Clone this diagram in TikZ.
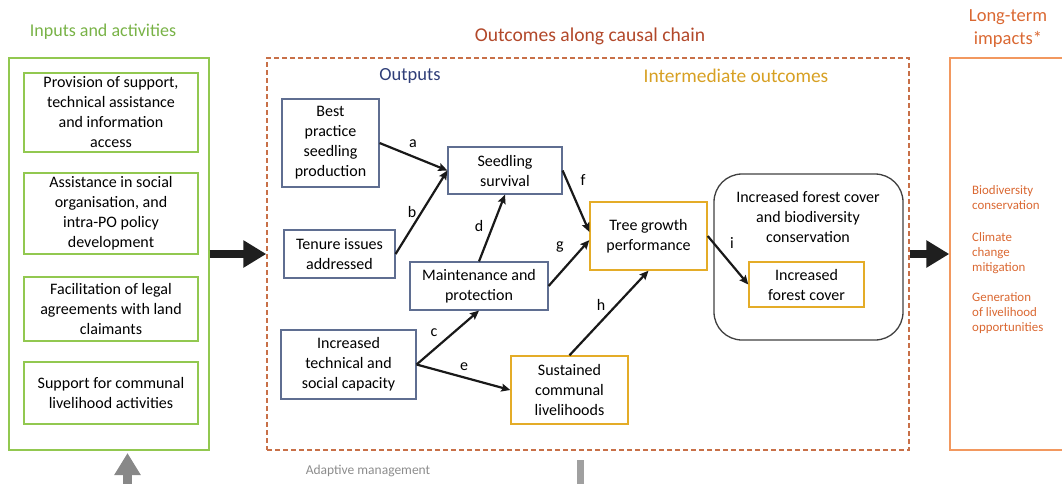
\documentclass[tikz,border=0pt]{standalone}
\usepackage{fontspec}
\setmainfont{Carlito}
\usetikzlibrary{arrows.meta,positioning}
\definecolor{inputgreen}{RGB}{146,200,80}
\definecolor{inputtitle}{RGB}{120,178,70}
\definecolor{chainred}{RGB}{178,72,42}
\definecolor{chaindash}{RGB}{200,112,72}
\definecolor{outblue}{RGB}{47,62,120}
\definecolor{outborder}{RGB}{95,110,145}
\definecolor{midgold}{RGB}{215,160,35}
\definecolor{midborder}{RGB}{228,172,40}
\definecolor{impactorange}{RGB}{218,104,50}
\definecolor{impactborder}{RGB}{242,152,95}
\definecolor{feedgray}{RGB}{160,160,160}
\tikzset{
  boxtext/.style={font=\fontsize{16}{20}\selectfont, align=center, inner sep=0pt},
  inbox/.style={boxtext, draw=inputgreen, line width=1.4pt, minimum width=174pt},
  outbox/.style={boxtext, draw=outborder, line width=1.2pt},
  midbox/.style={boxtext, draw=midborder, line width=1.4pt},
  heading/.style={font=\fontsize{18.5}{23}\selectfont, align=center},
  letter/.style={font=\fontsize{16}{20}\selectfont},
  impitem/.style={font=\fontsize{12.9}{15}\selectfont, align=left, text=impactorange, inner sep=0pt, anchor=west},
  link/.style={->, line width=2.2pt, black!90},
  bigarrow/.style={line width=8pt, -{Triangle[length=23pt,width=26pt]}, black!88},
}

\begin{document}
\begin{tikzpicture}[x=1pt, y=-1pt, >={Stealth[length=9pt,width=8pt,inset=1.5pt]}]
\useasboundingbox (0,0) rectangle (1062,483);

%%% Column frames
\node[draw=inputgreen, line width=1.4pt, minimum width=200pt, minimum height=392pt] (inputs) at (109,254) {}; % inputs frame
\node[draw=chaindash, dash pattern=on 5pt off 3pt, line width=1.4pt, minimum width=642pt, minimum height=392pt] (chain) at (588,254) {}; % causal chain frame
\node[draw=impactborder, line width=1.4pt, minimum width=120pt, minimum height=392pt] (impacts) at (1010,254) {}; % impacts frame

\node[heading, text=inputtitle, font=\fontsize{18}{23}\selectfont] (intitle) at (103,32) {Inputs and activities}; % inputs title
\node[heading, text=chainred, font=\fontsize{19.6}{23}\selectfont] (chaintitle) at (590,36) {Outcomes along causal chain}; % chain title
\node[heading, text=impactorange] (imptitle) at (1008,28.5) {Long-term\\impacts*}; % impacts title
\node[heading, text=outblue] (outtitle) at (410,76) {Outputs}; % outputs title
\node[heading, text=midgold, font=\fontsize{19.4}{23}\selectfont] (midtitle) at (736,76) {Intermediate outcomes}; % intermediate title

%%% Inputs and activities
\node[inbox, minimum height=79pt] (support) at (111,112.5) {Provision of support,\\technical assistance\\and information\\access};
\node[inbox, minimum height=81pt] (organise) at (111,213.5) {Assistance in social\\organisation, and\\intra-PO policy\\development};
\node[inbox, minimum height=64pt] (legal) at (111,309) {Facilitation of legal\\agreements with land\\claimants};
\node[inbox, minimum height=62pt] (livsupport) at (111,393) {Support for communal\\livelihood activities};

%%% Outputs
\node[outbox, minimum width=97pt, minimum height=88pt] (best) at (330.5,143) {Best\\practice\\seedling\\production};
\node[outbox, minimum width=114pt, minimum height=47pt] (survival) at (505,170.5) {Seedling\\survival};
\node[outbox, minimum width=111pt, minimum height=48pt] (tenure) at (339.5,254) {Tenure issues\\addressed};
\node[outbox, minimum width=138pt, minimum height=48pt] (maint) at (479,286) {Maintenance and\\protection};
\node[outbox, minimum width=135pt, minimum height=69pt] (capacity) at (348.5,364.5) {Increased\\technical and\\social capacity};

%%% Intermediate outcomes
\node[midbox, minimum width=117pt, minimum height=68pt] (livelihood) at (569.5,390) {Sustained\\communal\\livelihoods};
\node[midbox, minimum width=117pt, minimum height=68pt] (growth) at (648.5,236) {Tree growth\\performance};
\node[draw=black!75, line width=1.3pt, rounded corners=28pt, minimum width=189pt, minimum height=166pt] (forest) at (808.5,257) {}; % forest group
\node[boxtext] (forestlbl) at (808,217) {Increased forest cover\\and biodiversity\\conservation}; % forest group label
\node[midbox, minimum width=115pt, minimum height=45pt] (cover) at (806.5,284.5) {Increased\\forest cover};

%%% Causal links
\draw[link] (best.east) -- (survival.west); % a
\draw[link] (tenure.east) -- (survival.west); % b
\draw[link] (capacity.east) -- (maint.south); % c
\draw[link] (maint.north) -- (survival.south); % d
\draw[link] (capacity.east) -- (livelihood.west); % e
\draw[link] (survival.east) -- (growth.176); % f
\draw[link] (maint.east) -- (growth.184); % g
\draw[link] (livelihood.north) -- (growth.south); % h
\draw[link] (growth.east) -- (cover.west); % i
\node[letter] (la) at (413,144) {a}; % a label
\node[letter] (lb) at (412,212) {b}; % b label
\node[letter] (lc) at (434,333) {c}; % c label
\node[letter] (ld) at (479,226) {d}; % d label
\node[letter] (le) at (464,367) {e}; % e label
\node[letter] (lf) at (583,180) {f}; % f label
\node[letter] (lg) at (560,247) {g}; % g label
\node[letter] (lh) at (601,305) {h}; % h label
\node[letter] (li) at (732,243) {i}; % i label

%%% Long-term impacts
\node[impitem] (imp1) at (972,197.5) {Biodiversity\\conservation};
\node[impitem] (imp2) at (972,253) {Climate\\change\\mitigation};
\node[impitem] (imp3) at (972,313) {Generation\\of livelihood\\opportunities};

\draw[bigarrow] (inputs.east) -- (chain.west); % inputs to chain
\draw[bigarrow] (chain.east) -- (impacts.west); % chain to impacts

%%% Adaptive management feedback
\coordinate (fbbase) at (127.5,495);
\coordinate (fbtip) at (127.5,453);
\coordinate (fbtop) at (580.5,460);
\coordinate (fbbot) at (580.5,495);
\draw[line width=9pt, -{Triangle[length=22pt,width=25pt]}, feedgray!85!black] (fbbase) -- (fbtip); % feedback arrow
\draw[line width=7pt, feedgray] (fbtop) -- (fbbot); % feedback bar
\node[font=\fontsize{13.5}{16}\selectfont, text=black!45] (adaptive) at (368,471) {Adaptive management};
\end{tikzpicture}
\end{document}
